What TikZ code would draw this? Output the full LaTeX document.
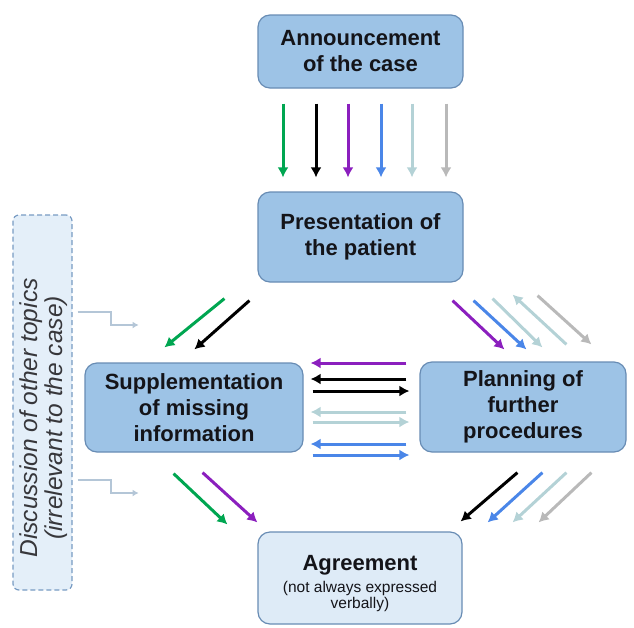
\documentclass[tikz,border=0pt]{standalone}
\usepackage{fontspec}
\setmainfont{Liberation Sans}
\usetikzlibrary{arrows.meta}
\definecolor{boxfill}{RGB}{157,195,230}
\definecolor{boxline}{RGB}{104,140,180}
\definecolor{agrfill}{RGB}{222,235,247}
\definecolor{discfill}{RGB}{228,239,249}
\definecolor{discline}{RGB}{120,155,195}
\definecolor{cgreen}{RGB}{0,166,81}
\definecolor{cpurple}{RGB}{139,31,190}
\definecolor{cblue}{RGB}{74,134,232}
\definecolor{cteal}{RGB}{180,210,214}
\definecolor{cgray}{RGB}{185,185,185}
\definecolor{cstep}{RGB}{180,198,215}
\definecolor{ctext}{RGB}{20,20,25}
\tikzset{
  mainbox/.style={draw=boxline, fill=boxfill, line width=1.2pt, rounded corners=12pt, align=center,
    text=ctext, font=\fontsize{22}{26}\selectfont\bfseries, inner sep=0pt},
  arr/.style={line width=3pt, -{Latex[length=10pt,width=11pt]}},
  steparr/.style={cstep, line width=2pt, -{Latex[length=6pt,width=7pt]}},
}
\begin{document}
\begin{tikzpicture}[x=1pt,y=-1pt]
\useasboundingbox (0,0) rectangle (634,627);
% boxes
\node[mainbox, minimum width=205, minimum height=73] (ann) at (360.5,51.5) {Announcement\\of the case};
\node[mainbox, minimum width=205, minimum height=90] (pres) at (360.5,237) {Presentation of\\the patient};
\node[mainbox, minimum width=218, minimum height=89] (supp) at (194,407.5) {Supplementation\\of missing\\information};
\node[mainbox, minimum width=206, minimum height=90] (plan) at (523,407) {Planning of\\further\\procedures};
\node[draw=boxline, fill=agrfill, line width=1.2pt, rounded corners=12pt, minimum width=204, minimum height=92] (agr) at (360,578) {};
\node[inner sep=0pt, text=ctext, font=\fontsize{22}{24}\selectfont\bfseries] (agrtitle) at (360,565) {Agreement};
\node[align=center, inner sep=0pt, text=ctext, font=\fontsize{15.5}{16}\selectfont] (agrsub) at (360,596) {(not always expressed\\verbally)};
\node[draw=discline, fill=discfill, dashed, dash pattern=on 5pt off 3pt, line width=1.2pt, rounded corners=6pt, minimum width=59, minimum height=375] (disc) at (42.5,402.5) {};
\node[rotate=90, align=center, inner sep=0pt, text=ctext!85, font=\fontsize{24.5}{25}\selectfont\itshape] (disctext) at (44,418) {Discussion of other topics\\(irrelevant to the case)};
% vertical arrows
\foreach \dx/\c in {-77.5/cgreen, -44.5/black, -12.5/cpurple, 20.5/cblue, 51.5/cteal, 85.5/cgray}{
  \draw[arr, \c, shorten <=15pt, shorten >=14pt] ([xshift=\dx]ann.south) -- ([xshift=\dx]pres.north);
}
% presentation -> supplementation
\draw[arr, cgreen] ([shift={(-33,16)}]pres.south west) -- ([shift={(80,-15)}]supp.north west);
\draw[arr, black] ([shift={(-8,18)}]pres.south west) -- ([shift={(110,-13)}]supp.north west);
% presentation <-> planning
\draw[arr, cpurple] ([shift={(-11,18)}]pres.south east) -- ([shift={(85,-12)}]plan.north west);
\draw[arr, cblue] ([shift={(10,18)}]pres.south east) -- ([shift={(107,-12)}]plan.north west);
\draw[arr, cteal] ([shift={(29,16)}]pres.south east) -- ([shift={(123,-14)}]plan.north west);
\draw[arr, cteal] ([shift={(147,-17)}]plan.north west) -- ([shift={(49,12)}]pres.south east);
\draw[arr, cgray] ([shift={(74,13)}]pres.south east) -- ([shift={(172,-17)}]plan.north west);
% supplementation <-> planning
\draw[arr, cpurple] ([shift={(-13,-44)}]plan.west) -- ([shift={(7,-44.5)}]supp.east);
\draw[arr, black] ([shift={(-13,-28)}]plan.west) -- ([shift={(7,-28.5)}]supp.east);
\draw[arr, black] ([shift={(9,-16.5)}]supp.east) -- ([shift={(-10,-16)}]plan.west);
\draw[arr, cteal] ([shift={(-13,5)}]plan.west) -- ([shift={(7,4.5)}]supp.east);
\draw[arr, cteal] ([shift={(9,14.5)}]supp.east) -- ([shift={(-10,15)}]plan.west);
\draw[arr, cblue] ([shift={(-13,37)}]plan.west) -- ([shift={(7,36.5)}]supp.east);
\draw[arr, cblue] ([shift={(9,47.5)}]supp.east) -- ([shift={(-10,48)}]plan.west);
% supplementation -> agreement
\draw[arr, cgreen] ([shift={(-130,21)}]supp.south east) -- ([shift={(-30,-7)}]agr.north west);
\draw[arr, cpurple] ([shift={(-101,20)}]supp.south east) -- ([shift={(0,-9)}]agr.north west);
% planning -> agreement
\draw[arr, black] ([shift={(98,20)}]plan.south west) -- ([shift={(-2,-10)}]agr.north east);
\draw[arr, cblue] ([shift={(123,20)}]plan.south west) -- ([shift={(25,-9)}]agr.north east);
\draw[arr, cteal] ([shift={(147,20)}]plan.south west) -- ([shift={(50,-9)}]agr.north east);
\draw[arr, cgray] ([shift={(172,20)}]plan.south west) -- ([shift={(76,-9)}]agr.north east);
% discussion -> supplementation
\draw[steparr] ([shift={(5,-90.5)}]disc.east) -- ++(33,0) -- ++(0,13) -- ++(28,0);
\draw[steparr] ([shift={(5,77.5)}]disc.east) -- ++(33,0) -- ++(0,13) -- ++(28,0);
\end{tikzpicture}
\end{document}
